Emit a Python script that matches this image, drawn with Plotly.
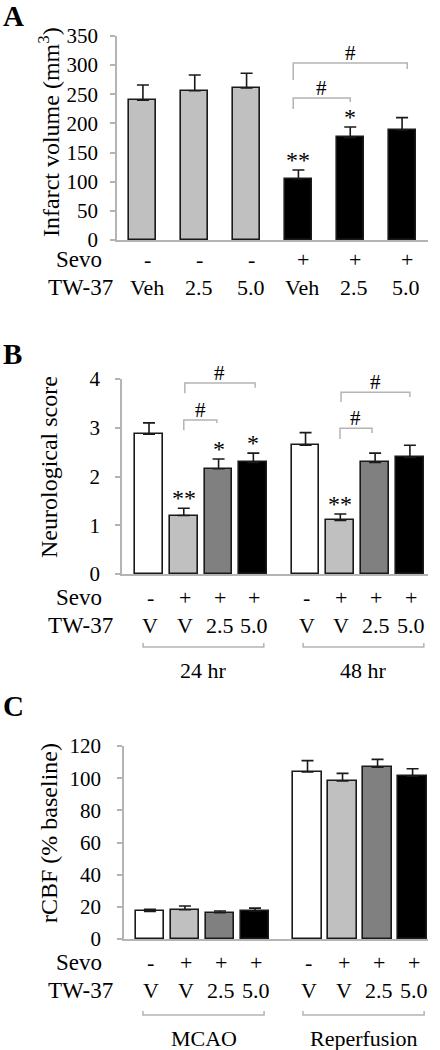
import plotly.graph_objects as go

# ---------------- data ----------------
A_values = [240, 256, 261, 105, 176, 189]
A_errors = [26, 27, 25, 15, 18, 21]
A_sevo = ["-", "-", "-", "+", "+", "+"]
A_tw37 = ["Veh", "2.5", "5.0", "Veh", "2.5", "5.0"]
A_colors = ["#c0c0c0", "#c0c0c0", "#c0c0c0", "#000000", "#000000", "#000000"]
A_stars = {3: "**", 4: "*"}

B_values = [2.87, 1.20, 2.16, 2.29, 2.64, 1.10, 2.29, 2.39]
B_errors = [0.23, 0.15, 0.20, 0.19, 0.26, 0.13, 0.19, 0.25]
B_stars = {1: "**", 2: "*", 3: "*", 5: "**"}
B_groups = ["24 hr", "48 hr"]

C_values = [17.2, 18.2, 16.3, 17.4, 103.9, 98.3, 106.8, 101.2]
C_errors = [1.2, 2.3, 1.1, 1.8, 7.0, 4.7, 4.9, 4.7]
C_groups = ["MCAO", "Reperfusion"]

BC_sevo = ["-", "+", "+", "+", "-", "+", "+", "+"]
BC_tw37 = ["V", "V", "2.5", "5.0", "V", "V", "2.5", "5.0"]
BC_colors = ["#ffffff", "#c0c0c0", "#808080", "#000000"] * 2

A_ticks = [0, 50, 100, 150, 200, 250, 300, 350]
B_ticks = [0, 1, 2, 3, 4]
C_ticks = [0, 20, 40, 60, 80, 100, 120]

# ---------------- layout helpers ----------------
W, H = 440, 1050
SERIF = "Liberation Serif, Times New Roman, serif"
GRAY = "#b4b4b4"

def py(px):
    return 1 - px / H

def px_x(px):
    return px / W

A_x = list(range(len(A_values)))
BC_x = [0, 1, 2, 3, 4.5, 5.5, 6.5, 7.5]

fig = go.Figure()

def add_bars(x, vals, errs, colors, width, xa, ya):
    fig.add_trace(go.Bar(
        x=x, y=vals, width=width, xaxis=xa, yaxis=ya,
        marker=dict(color=colors, line=dict(color="#1a1a1a", width=1.6)),
        error_y=dict(type="data", symmetric=False, array=errs,
                     arrayminus=[0] * len(errs), color="#1a1a1a",
                     thickness=1.6, width=6),
        showlegend=False, hoverinfo="skip",
    ))

add_bars(A_x, A_values, A_errors, A_colors, 0.52, "x", "y")
add_bars(BC_x, B_values, B_errors, BC_colors, 0.8, "x2", "y2")
add_bars(BC_x, C_values, C_errors, BC_colors, 0.81, "x3", "y3")

ax_common = dict(showgrid=False, zeroline=False, showline=True, automargin=False,
                 linecolor=GRAY, linewidth=1.5, fixedrange=True)
y_common = dict(ax_common, ticks="outside", ticklen=5, tickcolor=GRAY,
                tickwidth=1.5, tickfont=dict(family=SERIF, size=21, color="#000"))

fig.update_layout(
    template="none",
    width=W, height=H, margin=dict(l=0, r=0, t=0, b=0, pad=0, autoexpand=False),
    paper_bgcolor="white", plot_bgcolor="white", bargap=0,
    font=dict(family=SERIF, size=21, color="#000"),
    xaxis=dict(ax_common, domain=[px_x(117), px_x(428)], range=[-0.5, 5.5],
               showticklabels=False, anchor="y"),
    yaxis=dict(y_common, domain=[py(240), py(36)], range=[0, 350],
               tickvals=A_ticks, ticklabelstandoff=8, anchor="x"),
    xaxis2=dict(ax_common, domain=[px_x(122), px_x(428)], range=[-0.776, 8.02],
                showticklabels=False, anchor="y2"),
    yaxis2=dict(y_common, domain=[py(574), py(379)], range=[0, 4],
                tickvals=B_ticks, ticklabelstandoff=11, anchor="x2"),
    xaxis3=dict(ax_common, domain=[px_x(124), px_x(428)], range=[-0.74, 7.94],
                showticklabels=False, anchor="y3"),
    yaxis3=dict(y_common, domain=[py(939), py(746)], range=[0, 120],
                tickvals=C_ticks, ticklabelstandoff=12, anchor="x3"),
)

ann = []
shapes = []

def text(x, y, s, size=22, xref="paper", yref="paper", **kw):
    d = dict(x=x, y=y, text=s, xref=xref, yref=yref, showarrow=False,
             font=dict(family=SERIF, size=size, color="#000"))
    d.update(kw)
    ann.append(d)

# panel letters
for letter, ypx in [("A", 16), ("B", 354), ("C", 706)]:
    text(px_x(1), py(ypx), "<b>%s</b>" % letter, size=29, xanchor="left", yanchor="middle")

# y-axis titles
for title, ypx in [("Infarct volume (mm<sup>3</sup>)", 132), ("Neurological score", 467),
                   ("rCBF (% baseline)", 833)]:
    text(px_x(49), py(ypx), title, size=24, textangle=-90, xanchor="center", yanchor="middle")

# row labels
for (sy, ty) in [(259, 288), (597, 625), (962, 990)]:
    text(px_x(104), py(sy), "Sevo", size=23, xanchor="right", yanchor="middle")
    text(px_x(115), py(ty), "TW-37", size=23, xanchor="right", yanchor="middle")

for i, xv in enumerate(A_x):
    text(xv, py(259), A_sevo[i], xref="x", xanchor="center", yanchor="middle", xshift=5)
    text(xv, py(288), A_tw37[i], xref="x", xanchor="center", yanchor="middle", xshift=4)

for xr, (sy, ty) in [("x2", (597, 625)), ("x3", (962, 990))]:
    for i, xv in enumerate(BC_x):
        text(xv, py(sy), BC_sevo[i], xref=xr, xanchor="center", yanchor="middle", xshift=1)
        text(xv, py(ty), BC_tw37[i], xref=xr, xanchor="center", yanchor="middle", xshift=1)

# significance stars
for xr, yr, stars, vals, errs, xs in [("x", "y", A_stars, A_values, A_errors, A_x),
                                      ("x2", "y2", B_stars, B_values, B_errors, BC_x)]:
    for i, s in stars.items():
        text(xs[i], vals[i] + errs[i], s, size=24, xref=xr, yref=yr,
             xanchor="center", yanchor="bottom", yshift=-5)

# comparison brackets (#)
def bracket(xr, yr, x0, x1, yh, yl, yrt):
    line = dict(color=GRAY, width=1.5)
    shapes.append(dict(type="path", xref=xr, yref=yr, line=line,
                       path="M %f %f L %f %f L %f %f L %f %f" % (x0, yl, x0, yh, x1, yh, x1, yrt)))
    text((x0 + x1) / 2, yh, "#", size=21, xref=xr, yref=yr,
         xanchor="center", yanchor="bottom", yshift=-4)

bracket("x", "y", A_x[3] - 0.1, A_x[4], 243.6, 224.7, 236.8)
bracket("x", "y", A_x[3] - 0.1, A_x[5] + 0.1, 303.7, 274.5, 293.4)
bracket("x2", "y2", BC_x[1], BC_x[2] - 0.05, 3.16, 2.95, 3.10)
bracket("x2", "y2", BC_x[1] + 0.03, BC_x[3] + 0.05, 3.92, 3.71, 3.82)
bracket("x2", "y2", BC_x[5] - 0.01, BC_x[6] - 0.09, 2.99, 2.77, 2.89)
bracket("x2", "y2", BC_x[5] + 0.02, BC_x[7], 3.73, 3.53, 3.63)

# group brackets under B and C
def group(xr, x0, x1, ypx, label, lypx):
    line = dict(color=GRAY, width=1.5)
    shapes.append(dict(type="path", xref=xr, yref="paper", line=line,
                       path="M %f %f L %f %f L %f %f L %f %f" % (
                           x0, py(ypx - 4), x0, py(ypx), x1, py(ypx), x1, py(ypx - 4))))
    text((x0 + x1) / 2, py(lypx), label, size=22, xref=xr, xanchor="center", yanchor="middle")

group("x2", -0.17, 3.3, 647, B_groups[0], 670)
group("x2", 4.43, 7.9, 647, B_groups[1], 670)
group("x3", -0.2, 3.26, 1015, C_groups[0], 1038)
group("x3", 4.37, 7.83, 1015, C_groups[1], 1038)

fig.update_layout(annotations=ann, shapes=shapes)
fig.write_html("out.html", config={"displayModeBar": False},
               post_script="document.body.style.margin='0';")
